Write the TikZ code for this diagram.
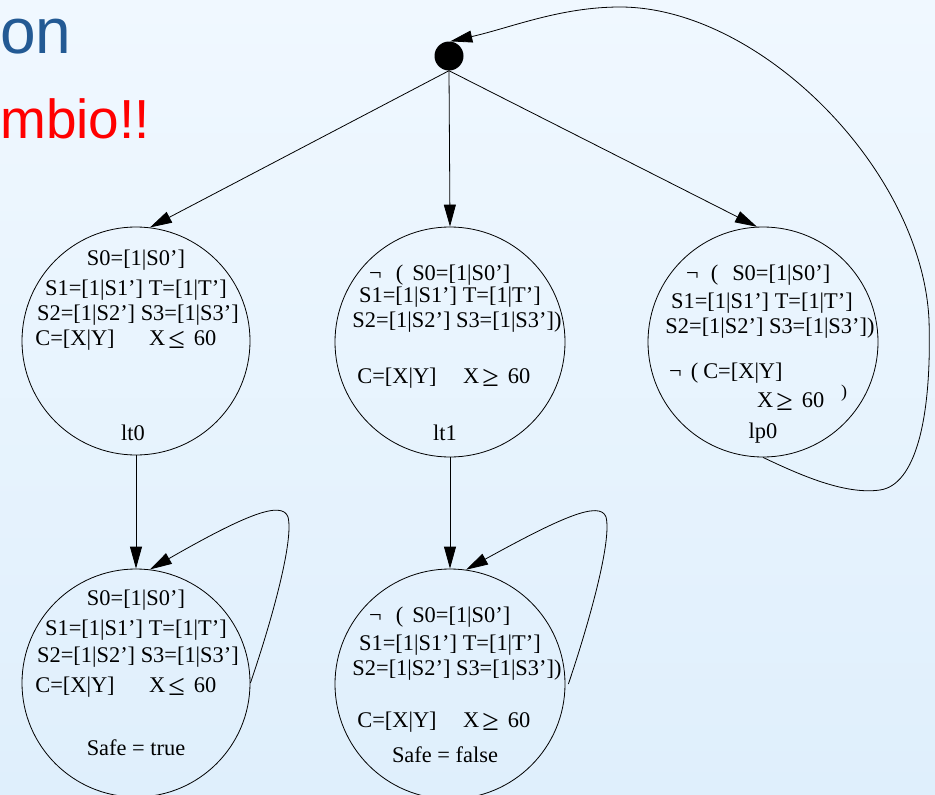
\documentclass[tikz,border=0pt]{standalone}
\usepackage{fontspec}
\setmainfont{Liberation Serif}
\newfontfamily\headfont{Liberation Sans}
\usetikzlibrary{arrows.meta}
\definecolor{bgtop}{RGB}{240,248,255}
\definecolor{bgbot}{RGB}{223,239,252}
\definecolor{titleblue}{RGB}{35,90,148}
\definecolor{titlered}{RGB}{255,0,0}
% relation symbols set larger and lowered, as in the guard lines
\newcommand\mylesseq{\raisebox{-3pt}{\fontsize{30}{30}\selectfont ≤}}
\newcommand\mygreatereq{\raisebox{-3pt}{\fontsize{30}{30}\selectfont ≥}}
\begin{document}
\begin{tikzpicture}[x=1pt,y=-1pt,
  state/.style={circle,draw,line width=0.8pt,inner sep=0pt,minimum size=#1},
  initdot/.style={circle,fill=black,inner sep=0pt,minimum size=29pt},
  txt/.style={font=\fontsize{22.4}{26}\selectfont,inner sep=0pt},
  edge/.style={line width=0.8pt,-{Triangle[length=22pt,width=12pt]}},
  loop/.style={line width=0.8pt,-{Triangle[length=22pt,width=12pt]}}
]
\useasboundingbox (0,0) rectangle (935,795);
\shade[top color=bgtop,bottom color=bgbot] (0,0) rectangle (935,795);

% slide heading fragments
\node[font=\headfont\fontsize{64}{64}\selectfont,text=titleblue,anchor=base west,inner sep=0pt] (head1) at (0,53) {on};
\node[font=\headfont\fontsize{55}{55}\selectfont,text=titlered,anchor=base west,inner sep=0pt] (head2) at (0,138) {mbio!!};

% states
\node[initdot] (init) at (449,56) {};
\node[state=228pt] (lt0) at (136,341) {};
\node[state=230pt] (lt1) at (450,342) {};
\node[state=230pt] (lp0) at (763,342) {};
\node[state=228pt] (sT) at (136,683) {};
\node[state=230pt] (sF) at (450,684) {};

% lt0
\node[txt,anchor=base] (lt0a) at (136,265) {S0=[1|S0’]};
\node[txt,anchor=base] (lt0b) at (136,295) {S1=[1|S1’] T=[1|T’]};
\node[txt,anchor=base] (lt0c) at (138,320) {S2=[1|S2’] S3=[1|S3’]};
\node[txt,anchor=base] (lt0d) at (75,345) {C=[X|Y]};
\node[txt,anchor=base west] (lt0e) at (149,345) {X\hspace{3pt}\mylesseq\hspace{9pt}60};
\node[txt,anchor=base] (lt0f) at (133,440) {lt0};

% lt1
\node[txt,anchor=base west] (lt1a) at (369,280) {¬\hspace{14pt}(\hspace{9pt}S0=[1|S0’]};
\node[txt,anchor=base] (lt1b) at (450,302) {S1=[1|S1’] T=[1|T’]};
\node[txt,anchor=base] (lt1c) at (457,327) {S2=[1|S2’] S3=[1|S3’])};
\node[txt,anchor=base] (lt1d) at (397,383) {C=[X|Y]};
\node[txt,anchor=base west] (lt1e) at (463,383) {X\hspace{3pt}\mygreatereq\hspace{9pt}60};
\node[txt,anchor=base] (lt1f) at (445,440) {lt1};

% lp0
\node[txt,anchor=base west] (lp0a) at (686,280) {¬\hspace{12pt}(\hspace{14pt}S0=[1|S0’]};
\node[txt,anchor=base] (lp0b) at (762,308) {S1=[1|S1’] T=[1|T’]};
\node[txt,anchor=base] (lp0c) at (770,333) {S2=[1|S2’] S3=[1|S3’])};
\node[txt,anchor=base west] (lp0d) at (669,378) {¬\hspace{9pt}(\hspace{5pt}C=[X|Y]};
\node[txt,anchor=base west] (lp0e) at (757,407) {X\hspace{3pt}\mygreatereq\hspace{9pt}60};
\node[font=\fontsize{18}{18}\selectfont,inner sep=0pt,anchor=base west] (lp0p) at (841,397) {)};
\node[txt,anchor=base] (lp0f) at (763,438) {lp0};

% Safe = true
\node[txt,anchor=base] (sTa) at (136,605) {S0=[1|S0’]};
\node[txt,anchor=base] (sTb) at (136,635) {S1=[1|S1’] T=[1|T’]};
\node[txt,anchor=base] (sTc) at (138,662) {S2=[1|S2’] S3=[1|S3’]};
\node[txt,anchor=base] (sTd) at (75,692) {C=[X|Y]};
\node[txt,anchor=base west] (sTe) at (149,692) {X\hspace{3pt}\mylesseq\hspace{9pt}60};
\node[txt,anchor=base] (sTf) at (136,755) {Safe = true};

% Safe = false
\node[txt,anchor=base west] (sFa) at (369,622) {¬\hspace{14pt}(\hspace{9pt}S0=[1|S0’]};
\node[txt,anchor=base] (sFb) at (450,650) {S1=[1|S1’] T=[1|T’]};
\node[txt,anchor=base] (sFc) at (457,675) {S2=[1|S2’] S3=[1|S3’])};
\node[txt,anchor=base] (sFd) at (397,727) {C=[X|Y]};
\node[txt,anchor=base west] (sFe) at (463,727) {X\hspace{3pt}\mygreatereq\hspace{9pt}60};
\node[txt,anchor=base] (sFf) at (445,762) {Safe = false};

% transitions
\draw[edge] (init.south) -- (lt0.83);
\draw[edge] (init.south) -- (lt1.north);
\draw[edge] (init.south) -- (lp0.93);
\draw[edge] (lt0.south) -- (sT.north);
\draw[edge] (lt1.south) -- (sF.north);

% self loops
\draw[loop] (sT.east) .. controls (272,620) and (294,540) .. (288,517)
  .. controls (282,500) and (245,515) .. (sT.83);
\draw[loop] ([xshift=3pt]sF.east) .. controls (590,620) and (612,540) .. (606,517)
  .. controls (600,500) and (560,518) .. (sF.82);

% return from lp0 to the initial point
\draw[loop] (lp0.south) .. controls (800,475) and (845,495) .. (880,490)
  .. controls (915,485) and (932,420) .. (929,320)
  .. controls (922,170) and (760,7) .. (620,7)
  .. controls (560,7) and (510,28) .. (init.85);
\end{tikzpicture}
\end{document}
